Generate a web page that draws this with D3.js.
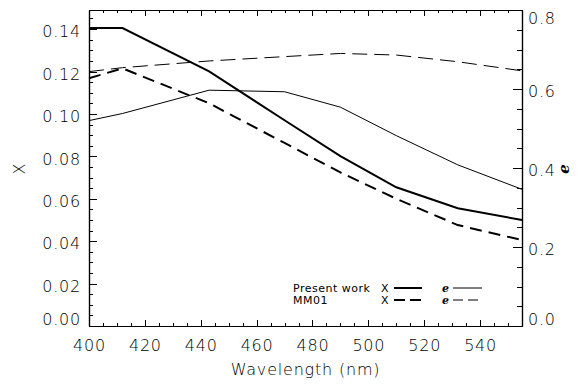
<!DOCTYPE html>
<html>
<head>
<meta charset="utf-8">
<script src="https://cdn.jsdelivr.net/npm/d3@7"></script>
<style>
  body { margin: 0; background: #fff; }
  svg text { font-family: "DejaVu Sans", sans-serif; font-weight: 200; fill: #000; }
</style>
</head>
<body>
<div id="chart"></div>
<script>
// data
var wavelength = [400, 412, 443, 470, 490, 510, 532, 555];
var x_present = [0.1405, 0.1405, 0.1201, 0.0970, 0.0801, 0.0654, 0.0555, 0.0500];
var x_mm01    = [0.1168, 0.1215, 0.1050, 0.0863, 0.0724, 0.0600, 0.0476, 0.0405];
var e_present = [0.520, 0.538, 0.597, 0.593, 0.554, 0.482, 0.408, 0.346];
var e_mm01    = [0.644, 0.654, 0.671, 0.682, 0.690, 0.686, 0.669, 0.646];

var x_ticks = [400, 420, 440, 460, 480, 500, 520, 540];
var yl_ticks = [0, 0.02, 0.04, 0.06, 0.08, 0.10, 0.12, 0.14];
var yr_ticks = [0, 0.2, 0.4, 0.6, 0.8];

// plot box
var plot = {left: 89, right: 522, top: 10, bottom: 326};
var width = 579, height = 387;

var svg = d3.select("#chart").append("svg")
    .attr("width", width)
    .attr("height", height);

var x = d3.scaleLinear().domain([400, 555]).range([plot.left, plot.right]);
var yl = d3.scaleLinear().domain([0, 0.149]).range([plot.bottom, plot.top]);
var yr = d3.scaleLinear().domain([0, 0.8]).range([plot.bottom, plot.top]);

var x_minor = d3.range(400, 556, 5);
var yl_minor = d3.range(0, 0.149, 0.005);
var yr_minor = d3.range(0, 0.801, 0.05);

// keep the tick labels inside the plot box vertically, like IDL does
function placeLabels(g, scale) {
  g.selectAll(".tick text").each(function (d) {
    var pos = scale(d);
    var c = Math.max(plot.top + 7.5, Math.min(plot.bottom - 7, pos + 2));
    d3.select(this).attr("y", c - pos).attr("dy", "0.36em");
  });
}

function styleAxis(g) {
  g.select(".domain").attr("stroke", "#000").attr("stroke-width", 1.2);
  g.selectAll(".tick line")
    .attr("stroke", "#000")
    .attr("stroke-width", 1)
    .attr("shape-rendering", "crispEdges");
  g.selectAll("text")
    .style("font-size", "16px")
    .style("letter-spacing", "0.8px")
    .attr("fill", "#000");
}

// bottom axis
var gx = svg.append("g")
    .attr("transform", "translate(0," + plot.bottom + ")")
    .call(d3.axisBottom(x).tickValues(x_ticks).tickSize(-6).tickSizeOuter(0).tickPadding(14));
styleAxis(gx);
svg.append("g")
    .attr("transform", "translate(0," + plot.bottom + ")")
    .call(d3.axisBottom(x).tickValues(x_minor).tickSize(-3).tickSizeOuter(0).tickFormat(""))
    .call(styleAxis);

// top axis
svg.append("g")
    .attr("transform", "translate(0," + plot.top + ")")
    .call(d3.axisTop(x).tickValues(x_ticks).tickSize(-6).tickSizeOuter(0).tickFormat(""))
    .call(styleAxis);
svg.append("g")
    .attr("transform", "translate(0," + plot.top + ")")
    .call(d3.axisTop(x).tickValues(x_minor).tickSize(-3).tickSizeOuter(0).tickFormat(""))
    .call(styleAxis);

// left axis
var gyl = svg.append("g")
    .attr("transform", "translate(" + plot.left + ",0)")
    .call(d3.axisLeft(yl).tickValues(yl_ticks).tickSize(-8).tickSizeOuter(0).tickPadding(8).tickFormat(d3.format(".2f")));
styleAxis(gyl);
placeLabels(gyl, yl);
svg.append("g")
    .attr("transform", "translate(" + plot.left + ",0)")
    .call(d3.axisLeft(yl).tickValues(yl_minor).tickSize(-4).tickSizeOuter(0).tickFormat(""))
    .call(styleAxis);

// right axis
var gyr = svg.append("g")
    .attr("transform", "translate(" + plot.right + ",0)")
    .call(d3.axisRight(yr).tickValues(yr_ticks).tickSize(-9).tickSizeOuter(0).tickPadding(6).tickFormat(d3.format(".1f")));
styleAxis(gyr);
placeLabels(gyr, yr);
svg.append("g")
    .attr("transform", "translate(" + plot.right + ",0)")
    .call(d3.axisRight(yr).tickValues(yr_minor).tickSize(-5).tickSizeOuter(0).tickFormat(""))
    .call(styleAxis);

// axis titles
svg.append("text")
    .text("Wavelength (nm)")
    .attr("x", (plot.left + plot.right) / 2)
    .attr("y", 375)
    .attr("text-anchor", "middle")
    .style("font-size", "16px")
    .style("letter-spacing", "0.8px");

svg.append("text")
    .text("X")
    .attr("transform", "translate(25,169) rotate(-90)")
    .attr("text-anchor", "middle")
    .style("font-size", "16px");

svg.append("text")
    .text("e")
    .attr("transform", "translate(569,169) rotate(-90)")
    .attr("text-anchor", "middle")
    .style("font-family", "'DejaVu Serif', serif")
    .style("font-weight", "bold")
    .style("font-style", "italic")
    .style("font-size", "15px");

// lines
function lineFor(values, scale) {
  return d3.line()
    .x(function (d, i) { return x(wavelength[i]); })
    .y(function (d) { return scale(d); })(values);
}

var series = [
  {values: e_mm01, scale: yr, width: 1, dash: "15,7"},
  {values: e_present, scale: yr, width: 1, dash: null},
  {values: x_mm01, scale: yl, width: 2, dash: "12,7"},
  {values: x_present, scale: yl, width: 2, dash: null}
];

series.forEach(function (s) {
  svg.append("path")
    .attr("d", lineFor(s.values, s.scale))
    .attr("fill", "none")
    .attr("stroke", "#000")
    .attr("stroke-width", s.width)
    .attr("stroke-dasharray", s.dash);
});

// legend
var legend = svg.append("g").style("font-size", "11px").style("letter-spacing", "0.5px");
var rows = [
  {label: "Present work", y: 288, dashX: null, dashE: null},
  {label: "MM01", y: 300, dashX: "11,5", dashE: "10,5"}
];
rows.forEach(function (r) {
  legend.append("text").text(r.label).attr("x", 293).attr("y", r.y).attr("dy", "0.36em")
    .style("font-weight", 400);
  legend.append("text").text("X").attr("x", 381).attr("y", r.y).attr("dy", "0.36em")
    .style("font-weight", 400);
  legend.append("line")
    .attr("x1", 394).attr("x2", 422).attr("y1", r.y).attr("y2", r.y)
    .attr("stroke", "#000").attr("stroke-width", 2).attr("stroke-dasharray", r.dashX);
  legend.append("text").text("e").attr("x", 442).attr("y", r.y).attr("dy", "0.36em")
    .style("font-family", "'DejaVu Serif', serif")
    .style("font-weight", "bold").style("font-style", "italic");
  legend.append("line")
    .attr("x1", 453).attr("x2", 482).attr("y1", r.y).attr("y2", r.y)
    .attr("stroke", "#000").attr("stroke-width", 1).attr("stroke-dasharray", r.dashE);
});
</script>
</body>
</html>
